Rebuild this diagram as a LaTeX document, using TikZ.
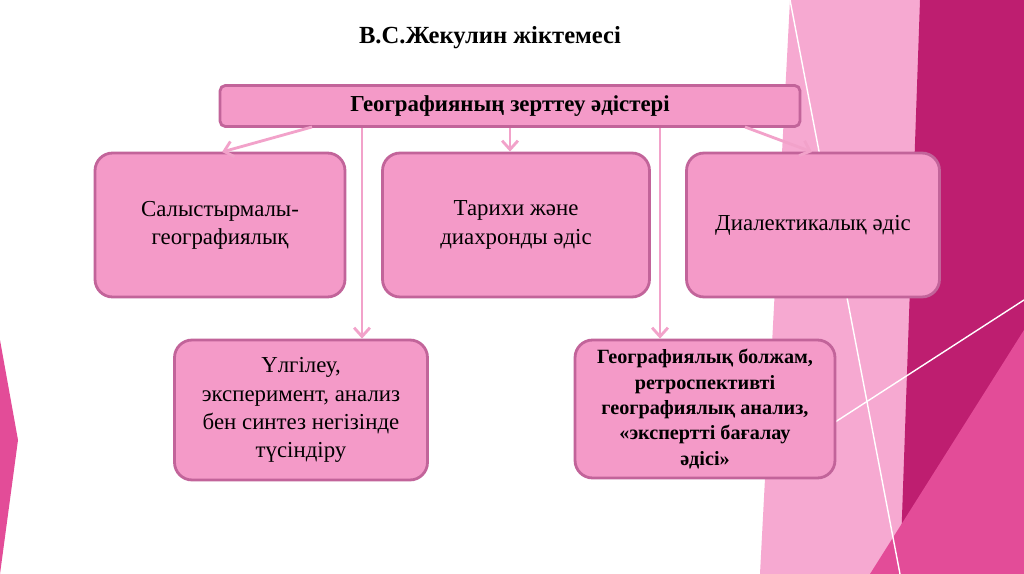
\documentclass[tikz,border=0pt]{standalone}
\usepackage{fontspec}
\setmainfont{Liberation Serif}
\usetikzlibrary{arrows.meta}
\definecolor{boxfill}{HTML}{F49AC8}
\definecolor{boxline}{HTML}{C2649A}
\definecolor{arr}{HTML}{F2A2CA}
\definecolor{dark}{HTML}{BE1E70}
\definecolor{mid}{HTML}{E34C98}
\definecolor{light}{HTML}{F6A9D1}
\begin{document}
\begin{tikzpicture}[x=0.02cm,y=-0.02cm,
  box/.style={draw=boxline,line width=1.6pt,fill=boxfill,rounded corners=10pt,align=center,font=\fontsize{13}{16}\selectfont},
  conn/.style={draw=arr,line width=1.6pt,-{Straight Barb[length=5pt,width=9pt]}}]
\useasboundingbox (0,0) rectangle (1024,574);
\fill[white] (0,0) rectangle (1024,574);
% decoration
\fill[light] (790,0) -- (930,0) -- (905,574) -- (760,574) -- cycle;
\fill[dark] (920,0) -- (1024,0) -- (1024,574) -- (900,574) -- cycle;
\fill[mid] (870,574) -- (1024,330) -- (1024,574) -- cycle;
\fill[mid] (0,340) -- (18,440) -- (0,574) -- cycle;
\draw[white,line width=0.8pt] (790,0) -- (900,574);
\draw[white,line width=0.8pt] (600,574) -- (1024,300);
% title
\node[font=\bfseries\fontsize{14}{17}\selectfont] (title) at (490,38) {В.С.Жекулин жіктемесі};
\node[box,rounded corners=3pt,minimum width=11.6cm,minimum height=0.82cm,font=\bfseries\fontsize{13}{16}\selectfont] (top) at (510,106) {Географияның зерттеу әдістері};
\node[box,minimum width=5cm,minimum height=2.88cm] (b1) at (220,225) {Салыстырмалы-\\географиялық};
\node[box,minimum width=5.34cm,minimum height=2.88cm] (b2) at (516,225) {Тарихи және\\диахронды әдіс};
\node[box,minimum width=5.06cm,minimum height=2.88cm] (b3) at (813,225) {Диалектикалық әдіс};
\node[box,minimum width=5.06cm,minimum height=2.8cm] (b4) at (301,410) {Үлгілеу,\\эксперимент, анализ\\бен синтез негізінде\\түсіндіру};
\node[box,minimum width=5.2cm,minimum height=2.76cm,font=\bfseries\fontsize{11.5}{14.5}\selectfont] (b5) at (705,409) {Географиялық болжам,\\ретроспективті\\географиялық анализ,\\«эксперттi бағалау\\әдісі»};
\coordinate (s1) at (312,127);
\coordinate (s3) at (745,127);
\draw[conn] (s1) -- (222,152);
\draw[conn] (top.south -| 510,0) -- (b2.north -| 510,0);
\draw[conn] (s3) -- (812,152);
\draw[conn] (top.south -| 362,0) -- (b4.north -| 362,0);
\draw[conn] (top.south -| 660,0) -- (b5.north -| 660,0);
\end{tikzpicture}
\end{document}
